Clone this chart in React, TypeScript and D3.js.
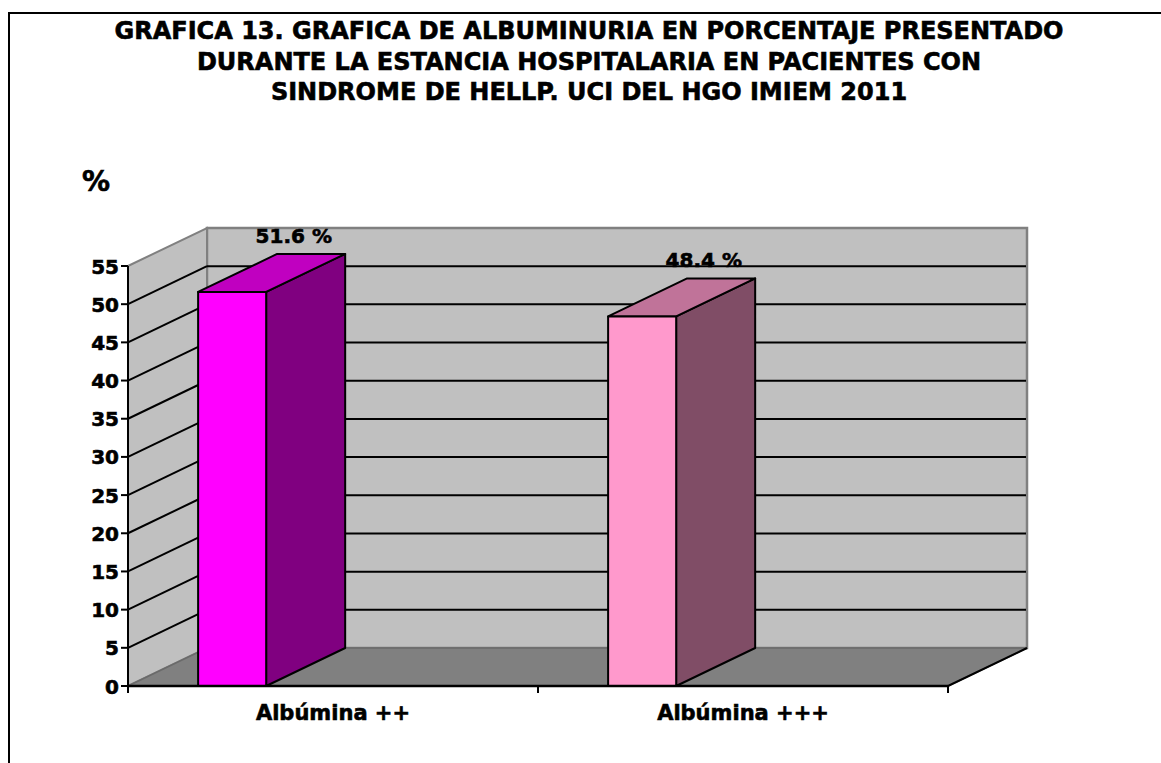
import React from 'react';
import * as d3 from 'd3';

// data
const categories = ['Albúmina ++', 'Albúmina +++'];
const values = [51.6, 48.4];
const valueLabels = ['51.6 %', '48.4 %'];
const yTicks = [0, 5, 10, 15, 20, 25, 30, 35, 40, 45, 50, 55];
const titleLines = [
  'GRAFICA 13. GRAFICA DE ALBUMINURIA EN PORCENTAJE PRESENTADO',
  'DURANTE LA ESTANCIA HOSPITALARIA EN PACIENTES CON',
  'SINDROME DE HELLP. UCI DEL HGO IMIEM 2011',
];
const frontColors = ['#FF00FF', '#FF99CC'];
const topColors = ['#C000C0', '#C07399'];
const sideColors = ['#800080', '#804D66'];

const W = 1161;
const H = 763;
const font = "'DejaVu Sans', Verdana, sans-serif";
// a touch of outline makes DejaVu Bold look as heavy as the original Tahoma Bold
const heavy = { fontFamily: font, fontWeight: 'bold' as const, stroke: '#000', strokeWidth: 0.6 };

const App = () => {
  const left = 128;
  const right = 948;
  const depth = { dx: 79, dy: -38 };

  const x = d3.scaleBand<string>().domain(categories).range([left, right]).padding(0);
  const y = d3.scaleLinear().domain([0, 55]).range([686, 266]);

  const poly = (pts: [number, number][]) => d3.line()(pts.concat([pts[0]])) + 'Z';

  const y0 = y(0);
  const yTop = y(55);
  const backL = left + depth.dx;
  const backR = right + depth.dx;

  const barW = x.bandwidth() * 0.166;
  const barOff = x.bandwidth() * 0.171;

  return (
    <svg width={W} height={H} style={{ position: 'absolute', left: 0, top: 0, background: '#fff' }}>
      {/* outer frame */}
      <path d={`M9,${H + 5}V13H${W + 5}`} fill="none" stroke="#000" strokeWidth={2} />

      {/* title */}
      {titleLines.map((t, i) => (
        <text key={i} x={589} y={39 + i * 30.5} textAnchor="middle" fontSize={24} {...heavy}>
          {t}
        </text>
      ))}

      <text x={96} y={191} textAnchor="middle" fontSize={28} {...heavy}>%</text>

      {/* back wall */}
      <path d={poly([[backL, yTop + depth.dy], [backR, yTop + depth.dy], [backR, y0 + depth.dy], [backL, y0 + depth.dy]])}
        fill="#C0C0C0" stroke="#808080" strokeWidth={2.5} />
      {/* side wall */}
      <path d={poly([[left, y0], [left, yTop], [backL, yTop + depth.dy], [backL, y0 + depth.dy]])}
        fill="#C0C0C0" stroke="#808080" strokeWidth={2} />
      {/* floor */}
      <path d={poly([[left, y0], [right, y0], [backR, y0 + depth.dy], [backL, y0 + depth.dy]])}
        fill="#808080" stroke="#6a6a6a" strokeWidth={1.5} />
      <line x1={right} y1={y0} x2={backR} y2={y0 + depth.dy} stroke="#000" strokeWidth={2} />

      {/* value labels (behind gridlines as in reference) */}
      {values.map((v, i) => {
        const bx = (x(categories[i]) as number) + barOff;
        return (
          <text key={i} x={bx + barW / 2 + depth.dx * 0.78} y={y(v) + depth.dy - 11} textAnchor="middle"
            fontSize={20} {...heavy}>
            {valueLabels[i]}
          </text>
        );
      })}

      {/* gridlines */}
      {yTicks.filter(t => t > 0 && t < 55).map(t => (
        <g key={t}>
          <line x1={left} y1={y(t)} x2={backL} y2={y(t) + depth.dy} stroke="#000" strokeWidth={2} />
          <line x1={backL} y1={y(t) + depth.dy} x2={backR - 1} y2={y(t) + depth.dy} stroke="#000" strokeWidth={2} />
        </g>
      ))}

      {/* bars */}
      {values.map((v, i) => {
        const bx = (x(categories[i]) as number) + barOff;
        const by = y(v);
        const { dx, dy } = depth;
        return (
          <g key={i} stroke="#000" strokeWidth={2} strokeLinejoin="round">
            <path d={poly([[bx + barW, y0], [bx + barW, by], [bx + barW + dx, by + dy], [bx + barW + dx, y0 + dy]])} fill={sideColors[i]} />
            <path d={poly([[bx, by], [bx + barW, by], [bx + barW + dx, by + dy], [bx + dx, by + dy]])} fill={topColors[i]} />
            <rect x={bx} y={by} width={barW} height={y0 - by} fill={frontColors[i]} />
          </g>
        );
      })}

      {/* y axis */}
      <line x1={left} y1={yTop} x2={left} y2={y0} stroke="#000" strokeWidth={2} />
      {yTicks.map(t => (
        <g key={t}>
          <line x1={left - 7} y1={y(t)} x2={left} y2={y(t)} stroke="#000" strokeWidth={2} />
          <text x={119} y={y(t) + 7.5} textAnchor="end" fontSize={20} {...heavy}>{t}</text>
        </g>
      ))}

      {/* x axis */}
      <line x1={left} y1={y0} x2={right} y2={y0} stroke="#000" strokeWidth={2.5} />
      {[...categories.map(c => x(c) as number), right].map((tx, i) => (
        <line key={i} x1={tx} y1={y0} x2={tx} y2={y0 + 7} stroke="#000" strokeWidth={2} />
      ))}
      {categories.map(c => (
        <text key={c} x={(x(c) as number) + x.bandwidth() / 2} y={y0 + 34} textAnchor="middle"
          fontSize={21} {...heavy}>
          {c}
        </text>
      ))}
    </svg>
  );
};

export default App;
